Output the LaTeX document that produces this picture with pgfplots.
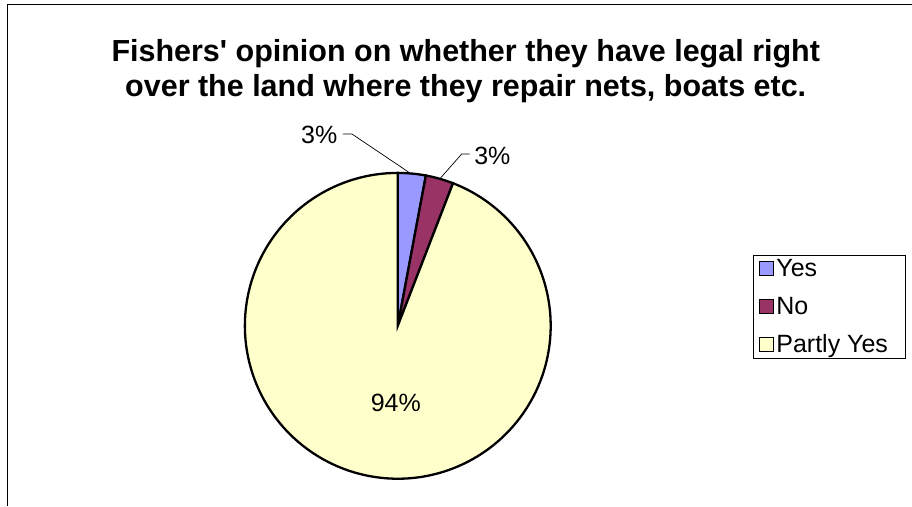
\documentclass[border=0pt]{standalone}
\usepackage{pgfplots}
\pgfplotsset{compat=1.18}
\usepackage{pgfplotstable}
\usepackage{fontspec}
\setmainfont{Liberation Sans}[Ligatures=TeXOff]
\definecolor{cyes}{HTML}{9999FF}
\definecolor{cno}{HTML}{993366}
\definecolor{cpartly}{HTML}{FFFFCC}

\pgfplotstableread{
label value
Yes 1
No 1
PartlyYes 32
}\piedata

\begin{document}
\begin{tikzpicture}
\pgfplotstablegetelem{0}{value}\of\piedata \let\va\pgfplotsretval
\pgfplotstablegetelem{1}{value}\of\piedata \let\vb\pgfplotsretval
\pgfplotstablegetelem{2}{value}\of\piedata \let\vc\pgfplotsretval
\pgfmathsetmacro\tot{\va+\vb+\vc}
\pgfmathsetmacro\aA{90}
\pgfmathsetmacro\aB{90-360*\va/\tot}
\pgfmathsetmacro\aC{\aB-360*\vb/\tot}
\pgfmathsetmacro\aD{\aC-360*\vc/\tot}
\begin{axis}[x=1pt,y=1pt,xmin=0,xmax=912,ymin=0,ymax=506,hide axis,clip=false,
  legend style={at={(axis cs:753,251)},anchor=north west,draw=black,line width=0.8pt,
    font=\fontsize{25}{30}\selectfont,inner xsep=6pt,inner ysep=2pt,row sep=15pt,
    /tikz/every even column/.append style={column sep=3pt}},
  legend cell align=left,
  legend image code/.code={\draw[#1,line width=1.4pt] (0pt,-7pt) rectangle (14pt,7pt);}]
\path (axis cs:0,0) rectangle (axis cs:912,506);
\addplot[draw=black,line width=2.3pt,fill=cyes,domain=\aB:\aA,samples=10,line join=miter]
  ({398+153*cos(x)},{180+153*sin(x)}) -- (axis cs:398,180) -- cycle;
\addlegendentry{Yes}
\addplot[draw=black,line width=2.3pt,fill=cno,domain=\aC:\aB,samples=10,line join=miter]
  ({398+153*cos(x)},{180+153*sin(x)}) -- (axis cs:398,180) -- cycle;
\addlegendentry{No}
\addplot[draw=black,line width=2.3pt,fill=cpartly,domain=\aD:\aC,samples=200,line join=miter]
  ({398+153*cos(x)},{180+153*sin(x)}) -- (axis cs:398,180) -- cycle;
\addlegendentry{Partly Yes\hspace*{9pt}}
% leader lines
\addplot[black,line width=0.7pt,forget plot] coordinates {(343,372) (352,372) (410,333)};
\addplot[black,line width=0.7pt,forget plot] coordinates {(470,352) (462,352) (440,327)};
% labels
\node[font=\fontsize{25}{30}\selectfont,anchor=east] at (axis cs:341,371) {3\%};
\node[font=\fontsize{25}{30}\selectfont,anchor=west] at (axis cs:471,350) {3\%};
\node[font=\fontsize{25}{30}\selectfont] at (axis cs:396,103) {94\%};
% title
\node[font=\fontsize{30.5}{35}\selectfont\bfseries,align=center] at (axis cs:466,435)
  {Fishers' opinion on whether they have legal right\\over the land where they repair nets, boats etc.};
% frame
\draw[black,line width=1pt] (axis cs:8,0) -- (axis cs:8,501) -- (axis cs:912,501);
\end{axis}
\end{tikzpicture}
\end{document}
